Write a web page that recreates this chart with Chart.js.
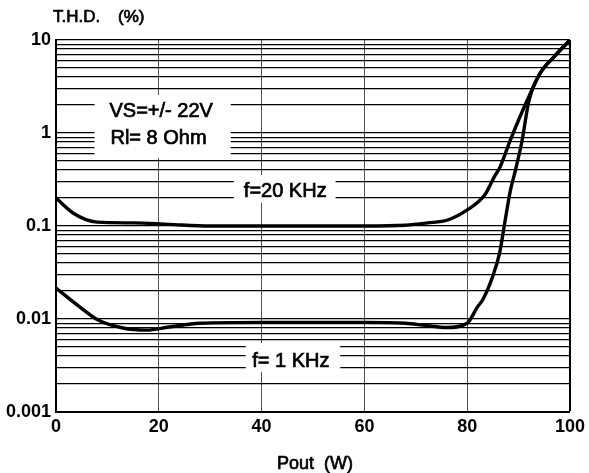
<!DOCTYPE html>
<html>
<head>
<meta charset="utf-8">
<script src="https://cdn.jsdelivr.net/npm/chart.js@4.4.1/dist/chart.umd.min.js"></script>
<style>
  html, body { margin: 0; padding: 0; background: #fff; }
  #wrap { width: 589px; height: 473px; }
</style>
</head>
<body>
<div id="wrap"><canvas id="thd" width="589" height="473"></canvas></div>
<script>
// Pout (W) / THD (%)
const pout20k = [0, 3.3, 8, 15, 22, 30, 40, 50, 60, 68, 72.3, 76.2, 80, 83.4, 85.3, 86.3, 88.4, 91.7, 94.2, 96.9, 100];
const thd20k  = [0.2, 0.138, 0.11, 0.108, 0.104, 0.1, 0.1, 0.1, 0.1, 0.102, 0.108, 0.116, 0.149, 0.215, 0.34, 0.42, 0.84, 2.26, 4.4, 6.6, 10];

const pout1k = [0, 4.6, 8.1, 13, 17.6, 22, 28, 40, 50, 60, 68, 72, 76, 80, 82, 83, 84.9, 86.3, 87.4, 88.4, 89.4, 90.7, 92, 94.2, 96.9, 100];
const thd1k  = [0.0215, 0.0135, 0.0098, 0.008, 0.0076, 0.0082, 0.009, 0.0092, 0.0092, 0.0092, 0.009, 0.0085, 0.0081, 0.009, 0.0135, 0.016, 0.028, 0.051, 0.116, 0.24, 0.4, 0.84, 2.2, 4.4, 6.6, 10];

const xTicks = [0, 20, 40, 60, 80, 100];
const yDecades = [0.001, 0.01, 0.1, 1, 10];

const notes = ['VS=+/- 22V', 'Rl= 8 Ohm', 'f=20 KHz', 'f= 1 KHz'];

const FONT = '"Liberation Sans", Arial, sans-serif';

// log grid: 1..9 x each decade
const yGrid = [];
yDecades.forEach((d, i) => {
  if (i === yDecades.length - 1) { yGrid.push(d); return; }
  for (let m = 1; m < 10; m++) yGrid.push(+(d * m).toPrecision(3));
});

// white label boxes over the grid, in data units
const noteBoxes = [
  { x0: 7.5, x1: 34, y0: 0.54, y1: 2.56 },
  { x0: 34.6, x1: 54.4, y0: 0.177, y1: 0.354 },
  { x0: 36.9, x1: 55.3, y0: 0.0027, y1: 0.0055 },
];
const notePos = [
  { x: 10.4, y: 1.69, align: 'left' },
  { x: 10.6, y: 0.88, align: 'left' },
  { x: 44.6, y: 0.234, align: 'center' },
  { x: 45.7, y: 0.00347, align: 'center' },
];

const toPts = (xs, ys) => xs.map((x, i) => ({ x, y: ys[i] }));

// slightly heavier text, like the scanned original
function heavyText(ctx, txt, x, y) {
  ctx.fillText(txt, x, y);
  ctx.strokeText(txt, x, y);
}

const notesPlugin = {
  id: 'notes',
  beforeDatasetsDraw(chart) {
    const { ctx, scales: { x, y } } = chart;
    ctx.save();
    ctx.fillStyle = '#fff';
    noteBoxes.forEach(b => {
      const l = x.getPixelForValue(b.x0), r = x.getPixelForValue(b.x1);
      const t = y.getPixelForValue(b.y1), bt = y.getPixelForValue(b.y0);
      ctx.fillRect(l, t, r - l, bt - t);
    });
    ctx.fillStyle = '#000';
    ctx.strokeStyle = '#000';
    ctx.lineWidth = 0.7;
    ctx.font = '20px ' + FONT;
    ctx.textBaseline = 'middle';
    notes.forEach((txt, i) => {
      const p = notePos[i];
      ctx.textAlign = p.align;
      heavyText(ctx, txt, x.getPixelForValue(p.x), y.getPixelForValue(p.y));
    });
    ctx.restore();
  },
  afterDraw(chart) {
    const { ctx, chartArea } = chart;
    ctx.save();
    ctx.fillStyle = '#000';
    ctx.strokeStyle = '#000';
    ctx.lineWidth = 0.7;
    ctx.font = '17px ' + FONT;
    ctx.textBaseline = 'middle';
    ctx.textAlign = 'left';
    heavyText(ctx, 'T.H.D.', chartArea.left - 3, 17);
    heavyText(ctx, '(%)', chartArea.left + 62, 17);
    ctx.font = '18px ' + FONT;
    ctx.textAlign = 'left';
    heavyText(ctx, 'Pout', 277, 464);
    heavyText(ctx, '(W)', 324, 464);
    ctx.restore();
  },
};

new Chart(document.getElementById('thd'), {
  type: 'line',
  data: {
    datasets: [
      {
        data: toPts(pout20k, thd20k),
        borderColor: '#000',
        borderWidth: 3.4,
        pointRadius: 0,
        cubicInterpolationMode: 'monotone',
        fill: false,
      },
      {
        data: toPts(pout1k, thd1k),
        borderColor: '#000',
        borderWidth: 3.4,
        pointRadius: 0,
        cubicInterpolationMode: 'monotone',
        fill: false,
      },
    ],
  },
  options: {
    responsive: false,
    animation: false,
    layout: { padding: { left: 0, top: 40, right: 15, bottom: 0 } },
    plugins: {
      legend: { display: false },
      tooltip: { enabled: false },
    },
    scales: {
      x: {
        type: 'linear',
        min: 0,
        max: 100,
        afterBuildTicks: s => { s.ticks = xTicks.map(v => ({ value: v })); },
        afterFit: s => { s.height = 61; },
        ticks: { color: '#000', font: { family: FONT, size: 18, weight: 'bold' }, padding: 4, maxRotation: 0 },
        grid: {
          drawTicks: false,
          color: c => (c.tick && c.tick.value === 100 ? '#000' : '#555'),
          lineWidth: c => (c.tick && c.tick.value === 100 ? 2 : 1),
        },
        border: { color: '#000', width: 2 },
      },
      y: {
        type: 'logarithmic',
        min: 0.001,
        max: 10,
        afterBuildTicks: s => { s.ticks = yGrid.map(v => ({ value: v })); },
        afterFit: s => { s.width = 56; },
        ticks: {
          color: '#000',
          font: { family: FONT, size: 18, weight: 'bold' },
          padding: 5,
          autoSkip: false,
          callback: v => (yDecades.includes(v) ? String(v) : ''),
        },
        grid: { drawTicks: false, color: '#000', lineWidth: 1.2 },
        border: { color: '#000', width: 2 },
      },
    },
  },
  plugins: [notesPlugin],
});
</script>
</body>
</html>
